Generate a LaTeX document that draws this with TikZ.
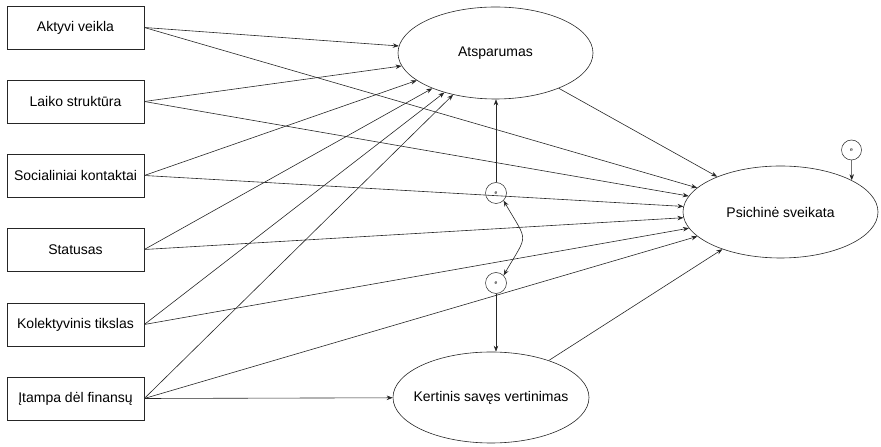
\documentclass[tikz,border=0pt]{standalone}
\usepackage{fontspec}
\setmainfont{Liberation Sans}
\usetikzlibrary{shapes.geometric,arrows.meta}
\begin{document}
\begin{tikzpicture}[x=1pt,y=1pt,
  every node/.style={font=\fontsize{14}{17}\selectfont},
  box/.style={draw=black!85,line width=0.6pt,rectangle,minimum width=137pt,minimum height=43pt,inner sep=0pt},
  lat/.style={draw=black!85,line width=0.6pt,ellipse,inner sep=0pt},
  err/.style={draw=black!85,line width=0.5pt,circle,minimum size=21pt,inner sep=0pt,font=\fontsize{5}{6}\selectfont},
  conn/.style={draw=black!85,line width=0.6pt,-{Stealth[length=6pt,width=4.5pt]}},
  plain/.style={draw=black!85,line width=0.6pt}]
\useasboundingbox (0,0) rectangle (881,447);
% observed boxes
\node[box] (akt) at (75.5,419.5) {Aktyvi veikla};
\node[box] (lai) at (75.5,345.5) {Laiko struktūra};
\node[box] (soc) at (75.5,271.5) {Socialiniai kontaktai};
\node[box] (sta) at (75.5,197.5) {Statusas};
\node[box] (kol) at (75.5,122.5) {Kolektyvinis tikslas};
\node[box] (ita) at (75.5,48.5) {Įtampa dėl finansų};
% latent ellipses
\node[lat,minimum width=195pt,minimum height=92pt] (ats) at (495.5,394) {\makebox[0pt]{Atsparumas}};
\node[lat,minimum width=195pt,minimum height=92pt] (psy) at (780.5,235) {\makebox[0pt]{Psichinė sveikata}};
\node[lat,minimum width=196pt,minimum height=91pt] (ker) at (491,49.5) {\makebox[0pt]{Kertinis savęs vertinimas}};
% error terms
\node[err] (eu) at (496,254) {e};
\node[err] (el) at (496,164) {e};
\node[err,minimum size=20pt] (er) at (851.5,297) {e};
% paths to Atsparumas
\foreach \s in {akt,lai,soc,sta,kol,ita}
  \draw[conn] (\s.east) -- (ats);
% paths to Psichine sveikata
\foreach \s in {akt,lai,soc,sta,kol,ita}
  \draw[conn] (\s.east) -- (psy);
\draw[conn] (ats) -- (psy);
\draw[conn] (ker) -- (psy);
\draw[conn] (ita.east) -- (ker);
% error arrows
\draw[conn] (eu) -- (eu |- ats.south);
\draw[conn] (el) -- (el |- ker.north);
\draw[conn] (er) -- (psy.24);
\draw[plain,{Stealth[length=6pt,width=4.5pt]}-{Stealth[length=6pt,width=4.5pt]}] (eu.-45) to[out=-60,in=60,looseness=1.7] (el.45);
\end{tikzpicture}
\end{document}
